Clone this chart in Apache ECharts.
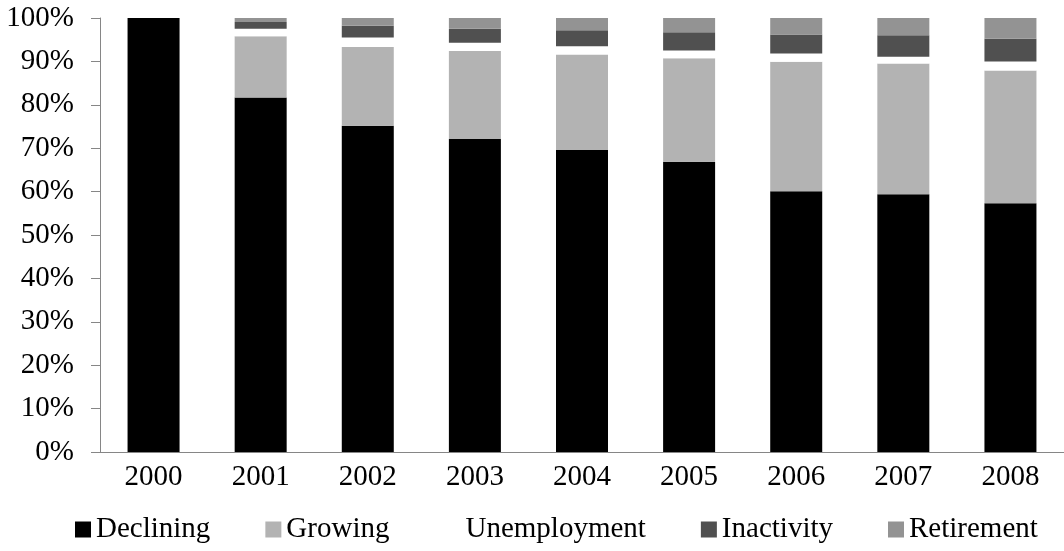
<!DOCTYPE html>
<html>
<head>
<meta charset="utf-8">
<script src="https://cdn.jsdelivr.net/npm/echarts@6/dist/echarts.min.js"></script>
<style>
  html, body { margin: 0; padding: 0; background: #fff; }
  #chart { width: 1064px; height: 551px; }
</style>
</head>
<body>
<div id="chart"></div>
<script>
var years = ['2000', '2001', '2002', '2003', '2004', '2005', '2006', '2007', '2008'];
var declining = [100, 81.7, 75.2, 72.1, 69.6, 66.9, 60.1, 59.4, 57.3];
var growing = [0, 14.1, 18.1, 20.3, 22.0, 23.8, 29.8, 30.1, 30.6];
var unemployment = [0, 1.7, 2.2, 1.9, 1.9, 1.8, 1.9, 1.6, 2.1];
var inactivity = [0, 1.6, 2.7, 3.2, 3.7, 4.2, 4.4, 4.9, 5.2];
var retirement = [0, 0.9, 1.8, 2.5, 2.8, 3.3, 3.8, 4.0, 4.8];

var font = '"Liberation Serif", "Times New Roman", serif';
var axisGray = '#868686';

function bar(name, data, color) {
  return {
    name: name,
    type: 'bar',
    stack: 'total',
    barWidth: 52,
    data: data,
    itemStyle: { color: color },
    emphasis: { disabled: true }
  };
}

var chart = echarts.init(document.getElementById('chart'), null, { renderer: 'canvas' });
chart.setOption({
  animation: false,
  backgroundColor: '#fff',
  textStyle: { fontFamily: font, color: '#000' },
  grid: { left: 100, right: -10, top: 18, bottom: 99 },
  legend: {
    left: 70,
    bottom: 2,
    itemGap: 55,
    itemWidth: 16,
    itemHeight: 16,
    icon: 'rect',
    textStyle: { fontFamily: font, fontSize: 29, color: '#000' },
    data: ['Declining', 'Growing', 'Unemployment', 'Inactivity', 'Retirement']
  },
  xAxis: {
    type: 'category',
    data: years,
    axisLine: { lineStyle: { color: axisGray, width: 1 } },
    axisTick: { show: false },
    axisLabel: { fontFamily: font, fontSize: 29, color: '#000', margin: 11 }
  },
  yAxis: {
    type: 'value',
    min: 0,
    max: 100,
    interval: 10,
    axisLine: { show: true, lineStyle: { color: axisGray, width: 1 } },
    axisTick: { show: true, length: 9, lineStyle: { color: axisGray } },
    splitLine: { show: false },
    axisLabel: { formatter: '{value}%', fontFamily: font, fontSize: 29, color: '#000', margin: 26 }
  },
  series: [
    bar('Declining', declining, '#000000'),
    bar('Growing', growing, '#b3b3b3'),
    bar('Unemployment', unemployment, '#ffffff'),
    bar('Inactivity', inactivity, '#505050'),
    bar('Retirement', retirement, '#939393')
  ]
});
</script>
</body>
</html>
